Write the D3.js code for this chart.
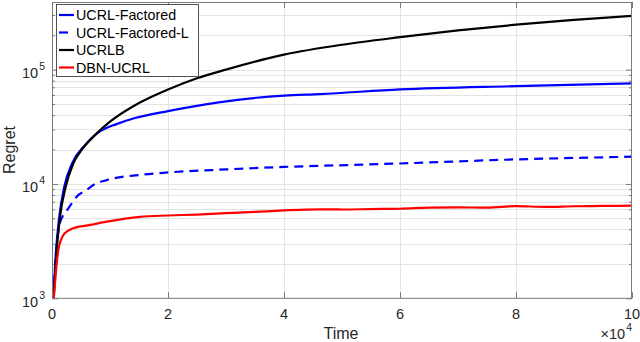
<!DOCTYPE html>
<html><head><meta charset="utf-8">
<script src="https://cdn.jsdelivr.net/npm/d3@7"></script>
<style>
html,body{margin:0;padding:0;background:#fff;}
svg{display:block;font-family:"Liberation Sans",Arial,Helvetica,sans-serif;}
</style></head>
<body><svg id="c" width="640" height="342"></svg>
<script>
// ---- data ----
const seriesNames = ["UCRL-Factored", "UCRL-Factored-L", "UCRLB", "DBN-UCRL"];
const xTicks = [0, 20000, 40000, 60000, 80000, 100000];
const xTickLabels = ["0", "2", "4", "6", "8", "10"];
const yTickExps = [3, 4, 5];

const ucrlFactored = [[250,1000],[700,2640],[1250,5160],[2100,9400],[3500,15300],[5500,21300],[8000,28300],[9190,30600],[11000,33200],[14310,37700],[20000,43400],[28450,51500],[40000,59300],[46200,61100],[60000,67100],[80000,71700],[100000,75700]];
const ucrlFactoredL = [[250,1000],[600,2200],[900,3200],[1250,4300],[1650,5000],[2241,5530],[3400,6760],[4250,7730],[5980,8850],[7120,9800],[9430,10800],[15170,12000],[20000,12600],[30000,13400],[40000,14100],[46200,14400],[60000,15100],[80000,16400],[100000,17300]];
const ucrlb = [[300,1000],[810,2640],[1380,5160],[2293,9160],[3670,15100],[5000,19500],[7500,27000],[10000,35000],[15000,51000],[20000,67000],[25000,84000],[30000,100000],[40000,135000],[50000,165000],[60000,192000],[70000,220000],[80000,247000],[90000,272000],[100000,295000]];
const dbnUcrl = [[300,1000],[517,1360],[800,2000],[1086,2640],[1500,3200],[1948,3570],[2800,3900],[3672,4100],[6552,4380],[9431,4680],[15172,5160],[20000,5300],[25000,5400],[30000,5550],[35000,5700],[40000,5870],[46200,6000],[50000,5980],[55000,6030],[60000,6070],[65000,6200],[70000,6250],[75000,6200],[80000,6400],[85000,6300],[90000,6380],[95000,6420],[100000,6450]];

// ---- layout ----
const L = 52, R = 632, T = 2, B = 298.3;
const svg = d3.select("#c");
const x = d3.scaleLinear().domain([0, 100000]).range([L, R]);
const y = d3.scaleLog().domain([1000, 390000]).range([B, T]);

const axisCol = "#7a7a7a", textCol = "#262626", gridCol = "#e3e3e3";

// grid
const minorVals = [];
for (let e = 3; e <= 5; e++) for (let m = 1; m <= 9; m++) { const v = m * Math.pow(10, e); if (v > 1000 && v <= 390000) minorVals.push(v); }
svg.append("g").selectAll("line").data(minorVals).join("line")
  .attr("x1", L).attr("x2", R).attr("y1", d => Math.round(y(d)) + 0.5).attr("y2", d => Math.round(y(d)) + 0.5)
  .attr("stroke", gridCol).attr("stroke-width", 1);
svg.append("g").selectAll("line").data(xTicks.slice(1, -1)).join("line")
  .attr("x1", d => Math.round(x(d)) + 0.5).attr("x2", d => Math.round(x(d)) + 0.5).attr("y1", T).attr("y2", B)
  .attr("stroke", gridCol).attr("stroke-width", 1);

// axes via d3 axis generators (inward ticks)
const xAxisB = d3.axisBottom(x).tickValues(xTicks).tickSize(-6).tickFormat("");
const xAxisT = d3.axisTop(x).tickValues(xTicks).tickSize(-6).tickFormat("");
const yMajor = yTickExps.map(e => Math.pow(10, e));
const yAxisL = d3.axisLeft(y).tickValues(yMajor).tickSize(-6).tickFormat("");
const yAxisR = d3.axisRight(y).tickValues(yMajor).tickSize(-6).tickFormat("");
const yMinorL = d3.axisLeft(y).tickValues(minorVals.filter(v => !yMajor.includes(v))).tickSize(-3).tickFormat("");
const yMinorR = d3.axisRight(y).tickValues(minorVals.filter(v => !yMajor.includes(v))).tickSize(-3).tickFormat("");
function styleAxis(g){ g.selectAll("path,line").attr("stroke", axisCol); g.select(".domain").remove(); }
svg.append("g").attr("transform", `translate(0,${B})`).call(xAxisB).call(styleAxis);
svg.append("g").attr("transform", `translate(0,${T})`).call(xAxisT).call(styleAxis);
svg.append("g").attr("transform", `translate(${L},0)`).call(yAxisL).call(styleAxis);
svg.append("g").attr("transform", `translate(${R},0)`).call(yAxisR).call(styleAxis);
svg.append("g").attr("transform", `translate(${L},0)`).call(yMinorL).call(styleAxis);
svg.append("g").attr("transform", `translate(${R},0)`).call(yMinorR).call(styleAxis);

// data lines
const clipId = "plotclip";
svg.append("clipPath").attr("id", clipId).append("rect").attr("x", L).attr("y", T).attr("width", R - L).attr("height", B - T);
const line = d3.line().x(d => x(d[0])).y(d => y(d[1])).curve(d3.curveMonotoneX);
const series = [
  {data: ucrlFactored, color: "#0000ff", dash: null},
  {data: ucrlFactoredL, color: "#0000ff", dash: "9,6"},
  {data: ucrlb, color: "#000000", dash: null},
  {data: dbnUcrl, color: "#ff0000", dash: null}
];
const gl = svg.append("g").attr("clip-path", `url(#${clipId})`);
series.forEach(s => {
  gl.append("path").attr("d", line(s.data)).attr("fill", "none")
    .attr("stroke", s.color).attr("stroke-width", 2.2)
    .attr("stroke-dasharray", s.dash).attr("stroke-linejoin", "round");
});

// box
svg.append("rect").attr("x", L + 0.5).attr("y", T + 0.5).attr("width", R - L - 1).attr("height", B - T - 0.5)
  .attr("fill", "none").attr("stroke", axisCol).attr("stroke-width", 1);

// tick labels
svg.append("g").selectAll("text").data(xTicks).join("text")
  .attr("x", d => x(d)).attr("y", 319).attr("text-anchor", "middle")
  .attr("font-size", 14.5).attr("fill", textCol).text((d, i) => xTickLabels[i]);
const yl = svg.append("g").selectAll("text").data(yTickExps).join("text")
  .attr("x", 45).attr("y", d => y(Math.pow(10, d)) + 8.5).attr("text-anchor", "end")
  .attr("font-size", 14.5).attr("fill", textCol);
yl.append("tspan").text("10");
yl.append("tspan").attr("dy", -8).attr("dx", 1).attr("font-size", 10.5).text(d => d);

// axis titles
svg.append("text").attr("x", 341).attr("y", 339).attr("text-anchor", "middle")
  .attr("font-size", 16).attr("fill", textCol).text("Time");
svg.append("text").attr("transform", `translate(15,150) rotate(-90)`).attr("text-anchor", "middle")
  .attr("font-size", 16).attr("fill", textCol).text("Regret");
const mult = svg.append("text").attr("x", 632).attr("y", 338.5).attr("text-anchor", "end")
  .attr("font-size", 14.5).attr("fill", textCol);
mult.append("tspan").text("\u00d710");
mult.append("tspan").attr("dy", -8).attr("dx", 1).attr("font-size", 10.5).text("4");

// legend
const lg = svg.append("g");
lg.append("rect").attr("x", 56.5).attr("y", 4.5).attr("width", 142).attr("height", 72)
  .attr("fill", "#fff").attr("stroke", "#262626").attr("stroke-width", 0.8);
const rowY = [15, 32.5, 50, 67.5];
series.forEach((s, i) => {
  lg.append("line").attr("x1", 59).attr("x2", 74).attr("y1", rowY[i]).attr("y2", rowY[i])
    .attr("stroke", s.color).attr("stroke-width", 2.2).attr("stroke-dasharray", s.dash);
  lg.append("text").attr("x", 76).attr("y", rowY[i] + 5.2).attr("font-size", 14.3)
    .attr("fill", "#000").text(seriesNames[i]);
});
</script></body></html>
